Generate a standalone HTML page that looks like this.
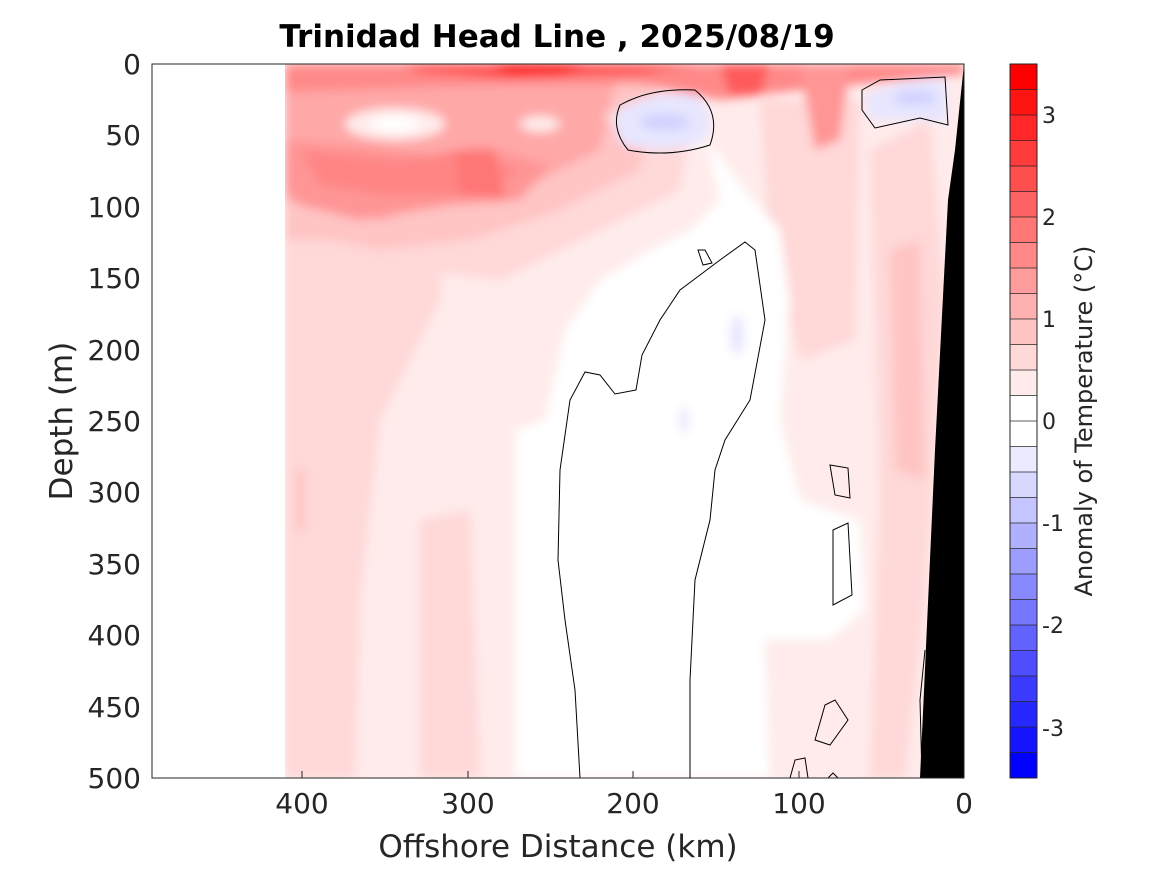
<!DOCTYPE html>
<html><head><meta charset="utf-8"><style>
body{margin:0;background:#fff;}
svg text{font-family:"DejaVu Sans","Liberation Sans",sans-serif;fill:#262626;}
</style></head><body>
<svg width="1167" height="875" viewBox="0 0 1167 875" xmlns="http://www.w3.org/2000/svg">
<rect width="1167" height="875" fill="#fff"/>
<defs>
<clipPath id="pa"><rect x="285" y="64" width="679" height="714"/></clipPath>
<filter id="bl"><feGaussianBlur stdDeviation="5"/></filter>
</defs>
<g clip-path="url(#pa)">
<rect x="285" y="64" width="679" height="714" fill="#ffebeb"/>
<g filter="url(#bl)">
<path d="M285 100 L450 100 L440 300 L380 420 L360 600 L355 778 L285 778 Z" fill="#ffd8d8"/>
<path d="M420 520 L470 510 L480 778 L420 778 Z" fill="#ffd8d8"/>
<path d="M870 150 L930 120 L945 300 L925 600 L905 778 L870 778 L880 500 Z" fill="#ffd8d8"/>
<path d="M760 100 L860 100 L855 340 L800 360 L770 250 Z" fill="#ffd8d8"/>
<path d="M285 64 L700 64 L680 190 L600 230 L500 280 L420 270 L340 330 L285 350 Z" fill="#ffd8d8"/>
<path d="M285 64 L660 64 L640 170 L560 210 L470 240 L380 250 L330 240 L285 240 Z" fill="#ffc4c4"/>
<path d="M890 250 L920 240 L925 480 L895 470 Z" fill="#ffc4c4"/>
<path d="M295 470 L305 470 L305 530 L295 530 Z" fill="#ffc4c4"/>
<path d="M285 64 L620 64 L600 150 L520 190 L450 200 L380 220 L330 210 L285 200 Z" fill="#ffa8a8"/>
<path d="M285 140 L360 145 L430 155 L480 145 L550 165 L520 200 L450 205 L360 220 L300 205 L285 190 Z" fill="#ff9595"/>
<path d="M300 150 L400 160 L460 150 L520 170 L480 195 L380 195 L320 185 Z" fill="#ff8585"/>
<path d="M455 152 L495 150 L505 198 L460 195 Z" fill="#ff7676"/>
<ellipse cx="395" cy="124" rx="50" ry="16" fill="#ffebeb"/>
<ellipse cx="395" cy="124" rx="25" ry="8" fill="#fff"/>
<ellipse cx="540" cy="124" rx="20" ry="8" fill="#ffebeb"/>
<path d="M285 64 L964 64 L964 74 L800 90 L720 100 L640 84 L500 85 L285 92 Z" fill="#ff8989"/>
<path d="M400 64 L700 64 L640 74 L500 78 L420 72 Z" fill="#ff4e4e"/>
<path d="M490 64 L590 64 L560 76 L510 76 Z" fill="#ff1414"/>
<path d="M720 64 L770 64 L760 95 L730 95 Z" fill="#ff5a5a"/>
<path d="M800 64 L850 64 L840 140 L815 150 Z" fill="#ff9595"/>
<path d="M600 115 L700 115 L720 200 L690 230 L650 250 L600 280 L565 330 L545 420 L515 430 L515 778 L770 778 L765 640 L830 640 L865 610 L860 520 L800 500 L780 420 L790 300 L780 230 L745 190 L715 150 Z" fill="#fff"/>
<path d="M618 110 Q650 90 695 95 Q718 115 705 140 Q670 155 625 145 Q610 130 618 110 Z" fill="#e6e6ff"/>
<ellipse cx="665" cy="122" rx="25" ry="8" fill="#d0d0ff"/>
<path d="M865 95 Q900 78 945 78 L948 122 Q900 118 870 120 Z" fill="#e6e6ff"/>
<ellipse cx="915" cy="98" rx="22" ry="7" fill="#d0d0ff"/>
<ellipse cx="737" cy="335" rx="7" ry="20" fill="#e6e6ff"/>
<ellipse cx="684" cy="420" rx="4" ry="14" fill="#e6e6ff"/>
</g>
<g fill="none" stroke="#000" stroke-width="1">
<path d="M580 778 L575 690 L565 620 L558 560 L560 470 L570 400 L585 372 L600 375 L615 394 L636 390 L642 355 L660 320 L680 290 L700 275 L720 260 L745 242 L755 250 L765 320 L750 400 L725 440 L715 470 L710 520 L695 580 L690 680 L690 778"/>
<path d="M620 105 Q650 88 695 90 Q722 112 710 145 Q670 158 628 150 Q610 128 620 105 Z"/>
<path d="M862 90 L880 80 L945 77 L948 125 L920 118 L875 128 L862 110 Z"/>
<path d="M698 250 L703 265 L712 263 L705 250 Z"/>
<path d="M830 465 L848 468 L850 498 L835 495 Z"/>
<path d="M833 530 L848 523 L852 595 L833 605 Z"/>
<path d="M815 740 L825 705 L835 700 L848 720 L830 745 Z"/>
<path d="M790 778 L795 760 L805 758 L808 778"/>
<path d="M828 778 L833 773 L838 778"/>
<path d="M922 778 L920 700 L925 650"/>
</g>
<path d="M964 64 L955 150 L948 200 L935 450 L920 778 L964 778 Z" fill="#000"/>
</g>
<rect x="152" y="64" width="812" height="714" fill="none" stroke="#262626" stroke-width="1"/>
<g stroke="#262626" stroke-width="1">
<line x1="964" y1="778" x2="964" y2="771"/><line x1="799" y1="778" x2="799" y2="771"/>
<line x1="633" y1="778" x2="633" y2="771"/><line x1="468" y1="778" x2="468" y2="771"/>
<line x1="302" y1="778" x2="302" y2="771"/>
</g>
<g font-size="28" text-anchor="middle">
<text x="964" y="813">0</text><text x="799" y="813">100</text><text x="633" y="813">200</text>
<text x="468" y="813">300</text><text x="302" y="813">400</text>
</g>
<g font-size="28" text-anchor="end">
<text x="141" y="74">0</text><text x="141" y="145">50</text><text x="141" y="217">100</text>
<text x="141" y="288">150</text><text x="141" y="360">200</text><text x="141" y="431">250</text>
<text x="141" y="502">300</text><text x="141" y="574">350</text><text x="141" y="645">400</text>
<text x="141" y="717">450</text><text x="141" y="788">500</text>
</g>
<text x="558" y="857" font-size="31" text-anchor="middle">Offshore Distance (km)</text>
<text transform="translate(72,421) rotate(-90)" font-size="31" text-anchor="middle">Depth (m)</text>
<text x="557" y="47" font-size="31" font-weight="bold" text-anchor="middle" style="fill:#000">Trinidad Head Line , 2025/08/19</text>
<g>
<rect x="1010" y="64" width="27" height="25.5" fill="#ff0000"/>
<rect x="1010" y="89.5" width="27" height="25.5" fill="#ff1414"/>
<rect x="1010" y="115" width="27" height="25.5" fill="#ff2727"/>
<rect x="1010" y="140.5" width="27" height="25.5" fill="#ff3b3b"/>
<rect x="1010" y="166" width="27" height="25.5" fill="#ff4e4e"/>
<rect x="1010" y="191.5" width="27" height="25.5" fill="#ff6262"/>
<rect x="1010" y="217" width="27" height="25.5" fill="#ff7676"/>
<rect x="1010" y="242.5" width="27" height="25.5" fill="#ff8989"/>
<rect x="1010" y="268" width="27" height="25.5" fill="#ff9d9d"/>
<rect x="1010" y="293.5" width="27" height="25.5" fill="#ffb0b0"/>
<rect x="1010" y="319" width="27" height="25.5" fill="#ffc4c4"/>
<rect x="1010" y="344.5" width="27" height="25.5" fill="#ffd8d8"/>
<rect x="1010" y="370" width="27" height="25.5" fill="#ffebeb"/>
<rect x="1010" y="395.5" width="27" height="51" fill="#ffffff"/>
<rect x="1010" y="446.5" width="27" height="25.5" fill="#ebebff"/>
<rect x="1010" y="472" width="27" height="25.5" fill="#d8d8ff"/>
<rect x="1010" y="497.5" width="27" height="25.5" fill="#c4c4ff"/>
<rect x="1010" y="523" width="27" height="25.5" fill="#b0b0ff"/>
<rect x="1010" y="548.5" width="27" height="25.5" fill="#9d9dff"/>
<rect x="1010" y="574" width="27" height="25.5" fill="#8989ff"/>
<rect x="1010" y="599.5" width="27" height="25.5" fill="#7676ff"/>
<rect x="1010" y="625" width="27" height="25.5" fill="#6262ff"/>
<rect x="1010" y="650.5" width="27" height="25.5" fill="#4e4eff"/>
<rect x="1010" y="676" width="27" height="25.5" fill="#3b3bff"/>
<rect x="1010" y="701.5" width="27" height="25.5" fill="#2727ff"/>
<rect x="1010" y="727" width="27" height="25.5" fill="#1414ff"/>
<rect x="1010" y="752.5" width="27" height="25.5" fill="#0000ff"/>
</g>
<g stroke="#262626" stroke-width="0.7">
<line x1="1010" y1="89.5" x2="1037" y2="89.5"/><line x1="1010" y1="115" x2="1037" y2="115"/>
<line x1="1010" y1="140.5" x2="1037" y2="140.5"/><line x1="1010" y1="166" x2="1037" y2="166"/>
<line x1="1010" y1="191.5" x2="1037" y2="191.5"/><line x1="1010" y1="217" x2="1037" y2="217"/>
<line x1="1010" y1="242.5" x2="1037" y2="242.5"/><line x1="1010" y1="268" x2="1037" y2="268"/>
<line x1="1010" y1="293.5" x2="1037" y2="293.5"/><line x1="1010" y1="319" x2="1037" y2="319"/>
<line x1="1010" y1="344.5" x2="1037" y2="344.5"/><line x1="1010" y1="370" x2="1037" y2="370"/>
<line x1="1010" y1="395.5" x2="1037" y2="395.5"/><line x1="1010" y1="421" x2="1037" y2="421"/>
<line x1="1010" y1="446.5" x2="1037" y2="446.5"/><line x1="1010" y1="472" x2="1037" y2="472"/>
<line x1="1010" y1="497.5" x2="1037" y2="497.5"/><line x1="1010" y1="523" x2="1037" y2="523"/>
<line x1="1010" y1="548.5" x2="1037" y2="548.5"/><line x1="1010" y1="574" x2="1037" y2="574"/>
<line x1="1010" y1="599.5" x2="1037" y2="599.5"/><line x1="1010" y1="625" x2="1037" y2="625"/>
<line x1="1010" y1="650.5" x2="1037" y2="650.5"/><line x1="1010" y1="676" x2="1037" y2="676"/>
<line x1="1010" y1="701.5" x2="1037" y2="701.5"/><line x1="1010" y1="727" x2="1037" y2="727"/>
<line x1="1010" y1="752.5" x2="1037" y2="752.5"/>
</g>
<rect x="1010" y="64" width="27" height="714" fill="none" stroke="#262626"/>
<g font-size="22">
<text x="1042" y="123">3</text><text x="1042" y="225">2</text><text x="1042" y="327">1</text>
<text x="1042" y="429">0</text><text x="1042" y="531">-1</text><text x="1042" y="633">-2</text>
<text x="1042" y="736">-3</text>
</g>
<text transform="translate(1092,421) rotate(-90)" font-size="24" text-anchor="middle">Anomaly of Temperature (°C)</text>
</svg>
</body></html>
